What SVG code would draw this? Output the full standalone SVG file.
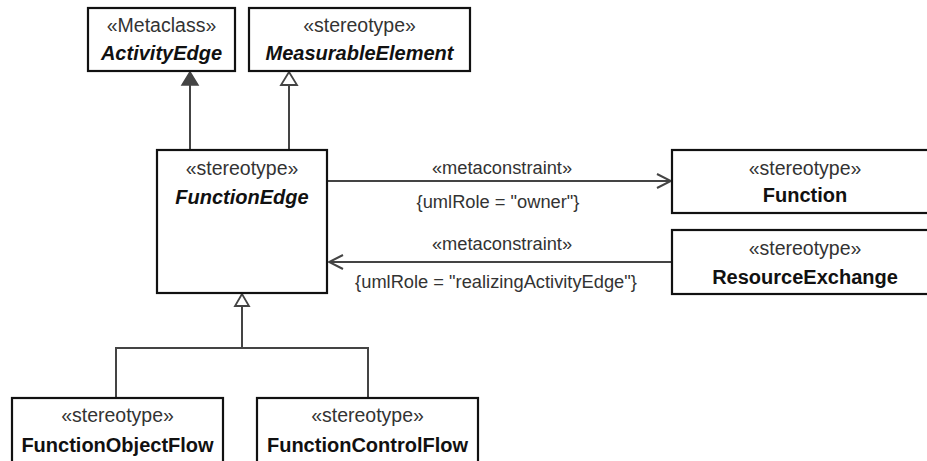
<svg xmlns="http://www.w3.org/2000/svg" width="927" height="461" viewBox="0 0 927 461">
<defs>
<style>
.box{fill:#fff;stroke:#111;stroke-width:2.2}
.st{font-family:"Liberation Sans",Arial,sans-serif;font-size:19.5px;fill:#333;text-anchor:middle}
.nm{font-family:"Liberation Sans",Arial,sans-serif;font-size:20px;font-weight:bold;fill:#111;text-anchor:middle}
.it{font-style:italic}
.lb{font-family:"Liberation Sans",Arial,sans-serif;font-size:18.3px;fill:#333;text-anchor:middle}
.ln{fill:none;stroke:#444;stroke-width:2}
</style>
<marker id="open" viewBox="0 0 16 16" refX="15" refY="8" markerWidth="16" markerHeight="16" markerUnits="userSpaceOnUse" orient="auto">
<path d="M1,1 L15,8 L1,15" fill="none" stroke="#444" stroke-width="2"/>
</marker>
</defs>
<g id="connectors">
<line class="ln" x1="190" y1="150" x2="190" y2="84"/>
<polygon points="190,72 182,85 198,85" fill="#444" stroke="#444" stroke-width="1.5"/>
<line class="ln" x1="289" y1="150" x2="289" y2="85"/>
<polygon points="289,72 281,85 297,85" fill="#fff" stroke="#444" stroke-width="1.8"/>
<polyline class="ln" points="242,306 242,348"/>
<polyline class="ln" points="116,398 116,348 368,348 368,398"/>
<polygon points="242,294 235,306 249,306" fill="#fff" stroke="#444" stroke-width="1.8"/>
<line class="ln" x1="328" y1="181" x2="671" y2="181" marker-end="url(#open)"/>
<text class="lb" x="502" y="173.5">«metaconstraint»</text>
<text class="lb" x="498" y="208">{umlRole = "owner"}</text>
<line class="ln" x1="672" y1="262" x2="329" y2="262" marker-end="url(#open)"/>
<text class="lb" x="502" y="250">«metaconstraint»</text>
<text class="lb" x="496" y="288">{umlRole = "realizingActivityEdge"}</text>
</g>
<g id="ActivityEdge">
<rect class="box" x="88" y="8" width="147" height="63"/>
<text class="st" x="161.5" y="32">«Metaclass»</text>
<text class="nm it" x="161.5" y="60">ActivityEdge</text>
</g>
<g id="MeasurableElement">
<rect class="box" x="249" y="8" width="221" height="63"/>
<text class="st" x="359.5" y="32">«stereotype»</text>
<text class="nm it" x="359.5" y="60">MeasurableElement</text>
</g>
<g id="FunctionEdge">
<rect class="box" x="157" y="150" width="170" height="143"/>
<text class="st" x="242" y="175">«stereotype»</text>
<text class="nm it" x="242" y="204">FunctionEdge</text>
</g>
<g id="Function">
<rect class="box" x="672" y="150" width="266" height="63"/>
<text class="st" x="805" y="175">«stereotype»</text>
<text class="nm" x="805" y="202">Function</text>
</g>
<g id="ResourceExchange">
<rect class="box" x="672" y="230" width="266" height="64"/>
<text class="st" x="805" y="255">«stereotype»</text>
<text class="nm" x="805" y="284">ResourceExchange</text>
</g>
<g id="FunctionObjectFlow">
<rect class="box" x="12" y="398" width="211" height="80"/>
<text class="st" x="117.5" y="422">«stereotype»</text>
<text class="nm" x="117.5" y="452">FunctionObjectFlow</text>
</g>
<g id="FunctionControlFlow">
<rect class="box" x="257" y="398" width="221" height="80"/>
<text class="st" x="367.5" y="422">«stereotype»</text>
<text class="nm" x="367.5" y="452">FunctionControlFlow</text>
</g>
</svg>
